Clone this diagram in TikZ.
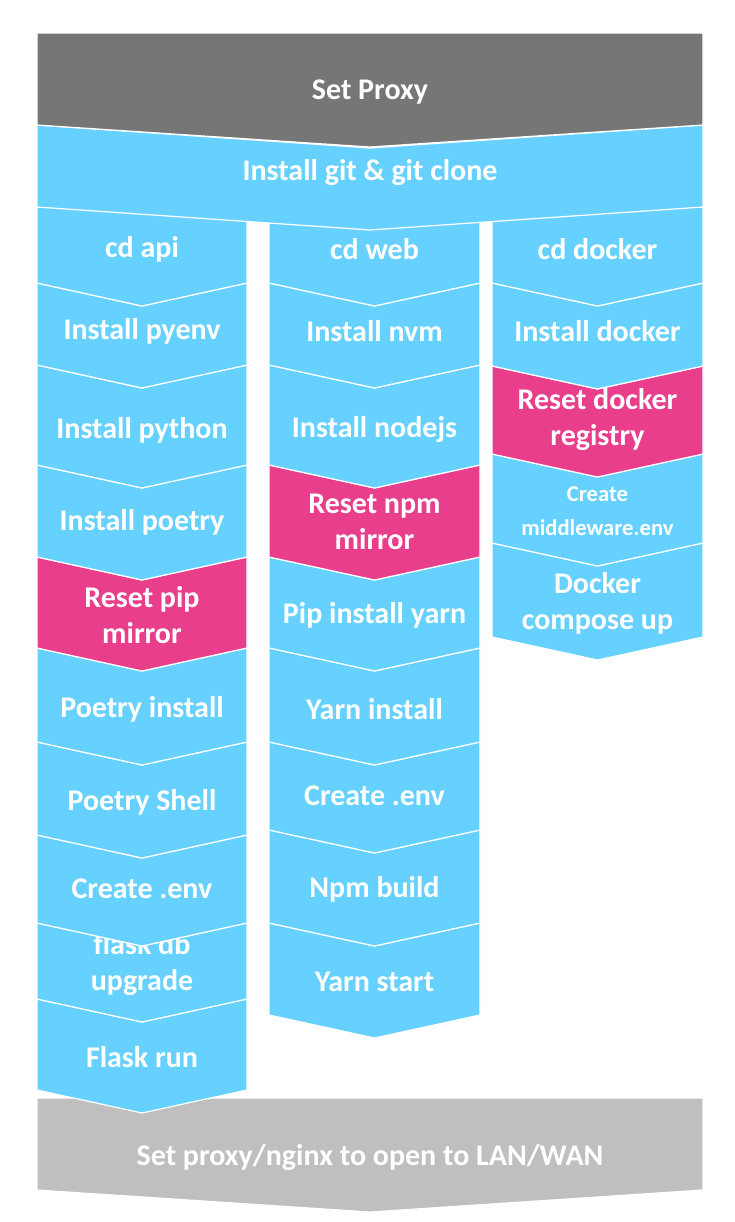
\documentclass[tikz,border=0pt]{standalone}
\usepackage{fontspec}
\setmainfont{Carlito}
\definecolor{stepblue}{HTML}{66D1FF}
\definecolor{steppink}{HTML}{E83E8C}
\definecolor{proxygray}{HTML}{767676}
\definecolor{langray}{HTML}{BFBFBF}
\usepackage{tikz}
\usetikzlibrary{calc}
\tikzset{
  bluestep/.style={fill=stepblue, draw=white, line width=0.9pt},
  pinkstep/.style={fill=steppink, draw=white, line width=0.9pt},
  graystep/.style={fill=proxygray, draw=white, line width=0.9pt},
  lanstep/.style={fill=langray, draw=white, line width=0.9pt},
  steptext/.style={text=white, font=\fontsize{22.5}{27}\selectfont\bfseries,
                   align=center, inner sep=0pt},
  smalltext/.style={steptext, font=\fontsize{17}{26}\selectfont\bfseries},
}
\newcommand{\chevdepth}{23}
% [top notch], #2 name, #3 style, #4 x left, #5 x right, #6 y top, #7 y bottom, #8 text y, #9 text
\newcommand{\chevstep}[9][\chevdepth]{%
  \path[#3] (#4,#6) -- ({(#4+#5)/2},{#6+#1}) -- (#5,#6) -- (#5,#7)
    -- ({(#4+#5)/2},{#7+\chevdepth}) -- (#4,#7) -- cycle;
  \node[steptext] (#2) at ({(#4+#5)/2},#8) {#9};
}

\begin{document}
\begin{tikzpicture}[x=0.75pt, y=-0.75pt]
  \useasboundingbox (0,0) rectangle (735,1222);

  % last step, under the api column
  \path[lanstep] (37,1098) -- (703,1098) -- (703,1190) -- (370,1212)
    -- (37,1190) -- cycle;
  \node[steptext] (lan) at (370,1158) {Set proxy/nginx to open to LAN/WAN};

  % api column
  \chevstep{flaskrun}{bluestep}{37}{247}{999}{1090}{1057}{Flask run}
  \chevstep{flaskdb}{bluestep}{37}{247}{923}{999}{965}{flask db\\upgrade}
  \chevstep{apienv}{bluestep}{37}{247}{835}{923}{889}{Create .env}
  \chevstep{poetryshell}{bluestep}{37}{247}{742}{835}{802}{Poetry Shell}
  \chevstep{poetryinst}{bluestep}{37}{247}{648}{742}{709}{Poetry install}
  \chevstep{pipmirror}{pinkstep}{37}{247}{557}{648}{615}{Reset pip\\mirror}
  \chevstep{poetry}{bluestep}{37}{247}{465}{557}{522}{Install poetry}
  \chevstep{python}{bluestep}{37}{247}{365}{465}{430}{Install python}
  \chevstep{pyenv}{bluestep}{37}{247}{283}{365}{331}{Install pyenv}
  \chevstep[0]{cdapi}{bluestep}{37}{247}{207}{283}{249}{cd api}

  % web column
  \chevstep{yarnstart}{bluestep}{269}{480}{923}{1015}{982}{Yarn start}
  \chevstep{npmbuild}{bluestep}{269}{480}{830}{923}{889}{Npm build}
  \chevstep{webenv}{bluestep}{269}{480}{742}{830}{796}{Create .env}
  \chevstep{yarninst}{bluestep}{269}{480}{648}{742}{709}{Yarn install}
  \chevstep{pipyarn}{bluestep}{269}{480}{557}{648}{615}{Pip install yarn}
  \chevstep{npmmirror}{pinkstep}{269}{480}{465}{557}{522}{Reset npm\\mirror}
  \chevstep{nodejs}{bluestep}{269}{480}{365}{465}{430}{Install nodejs}
  \chevstep{nvm}{bluestep}{269}{480}{283}{365}{331}{Install nvm}
  \chevstep[0]{cdweb}{bluestep}{269}{480}{207}{283}{249}{cd web}

  % docker column
  \chevstep{compose}{bluestep}{492}{703}{543}{637}{603}{Docker\\compose up}
  \chevstep{middleware}{bluestep}{492}{703}{454}{543}{511}{}
  \node[smalltext] at (middleware) {Create\\middleware.env};
  \chevstep{registry}{pinkstep}{492}{703}{366}{454}{420}{Reset docker\\registry}
  \chevstep{docker}{bluestep}{492}{703}{283}{366}{331}{Install docker}
  \chevstep[0]{cddocker}{bluestep}{492}{703}{207}{283}{249}{cd docker}

  % common steps on top
  \chevstep{git}{bluestep}{37}{703}{125}{207}{173}{Install git \& git clone}
  \path[graystep] (37,33) -- (703,33) -- (703,125) -- (370,147)
    -- (37,125) -- cycle;
  \node[steptext] (proxy) at (370,92) {Set Proxy};
\end{tikzpicture}
\end{document}
